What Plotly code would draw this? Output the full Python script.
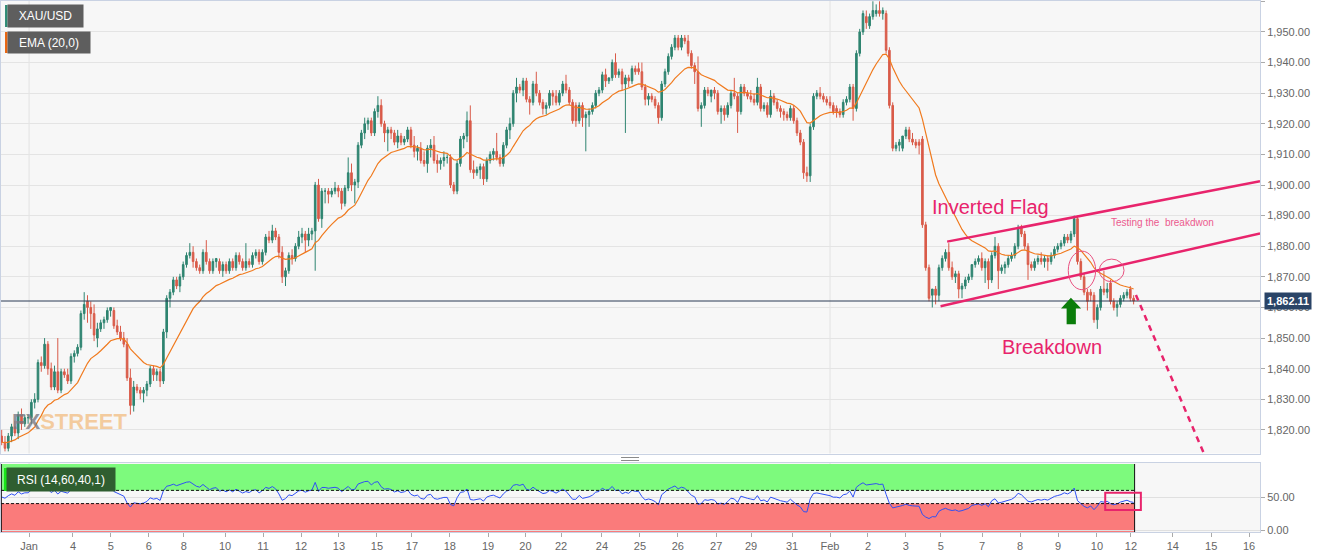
import numpy as np
import plotly.graph_objects as go

# ---------------- data (2H candles, XAU/USD) ----------------
open_ = [
    1818,1816,1814,1818,1821,1819,1825,1822,1824,1824,
    1829,1830,1842,1841,1848,1840,1834,1839,1833,1839,
    1838,1836,1844,1845,1847,1858,1862,1860,1858,1850,
    1853,1855,1856,1859,1859,1854,1852,1850,1848,1837,
    1828,1834,1833,1832,1833,1835,1840,1838,1839,1836,
    1852,1863,1865,1869,1867,1870,1874,1877,1878,1875,
    1873,1872,1878,1875,1872,1875,1875,1872,1874,1872,
    1875,1873,1877,1875,1873,1875,1874,1877,1878,1875,
    1878,1883,1882,1885,1883,1878,1870,1872,1877,1876,
    1880,1883,1884,1882,1884,1885,1900,1889,1898,1898,
    1897,1898,1899,1898,1894,1899,1904,1900,1901,1913,
    1917,1920,1921,1917,1924,1926,1920,1917,1918,1917,
    1914,1916,1914,1915,1918,1913,1911,1912,1908,1907,
    1912,1913,1908,1907,1908,1909,1909,1900,1898,1907,
    1915,1916,1921,1905,1904,1905,1906,1902,1908,1910,
    1911,1909,1907,1913,1918,1920,1930,1932,1931,1934,
    1928,1927,1933,1930,1927,1925,1926,1930,1929,1927,
    1930,1933,1931,1927,1926,1921,1926,1922,1923,1924,
    1926,1930,1931,1936,1934,1935,1940,1936,1937,1933,
    1935,1934,1938,1938,1937,1932,1928,1929,1928,1926,
    1922,1933,1937,1942,1945,1948,1945,1948,1947,1943,
    1939,1937,1925,1926,1931,1929,1931,1930,1924,1925,
    1923,1926,1930,1929,1924,1932,1930,1929,1928,1927,
    1932,1925,1926,1923,1929,1927,1925,1924,1923,1922,
    1925,1921,1917,1914,1904,1903,1919,1929,1930,1929,
    1928,1927,1926,1925,1924,1923,1927,1928,1932,1925,
    1943,1950,1955,1952,1955,1956,1957,1956,1956,1944,
    1926,1912,1913,1912,1916,1918,1915,1914,1914,1915,
    1887,1873,1864,1866,1864,1873,1876,1878,1873,1870,
    1871,1866,1867,1869,1870,1874,1875,1876,1873,1875,
    1869,1877,1880,1872,1873,1874,1876,1877,1880,1886,
    1884,1880,1874,1873,1875,1876,1875,1876,1875,1877,
    1879,1880,1881,1883,1882,1884,1889,1875,1870,1865,
    1865,1864,1856,1860,1866,1865,1868,1862,1860,1861,
    1863,1864,1866,1863,
]
high = [
    1820,1818,1819,1822,1823,1826,1827,1825,1825,1830,
    1832,1843,1844,1850,1849,1842,1841,1850,1840,1840,
    1840,1845,1846,1848,1859,1865,1864,1862,1861,1855,
    1856,1857,1860,1860,1860,1856,1854,1852,1850,1840,
    1836,1835,1834,1834,1836,1841,1841,1840,1840,1853,
    1864,1866,1870,1870,1871,1875,1878,1881,1880,1876,
    1874,1879,1882,1876,1876,1876,1876,1875,1875,1876,
    1876,1878,1878,1876,1881,1876,1878,1879,1879,1879,
    1884,1885,1887,1886,1884,1880,1873,1878,1879,1881,
    1885,1886,1885,1886,1886,1901,1902,1899,1899,1899,
    1899,1901,1900,1899,1900,1909,1907,1902,1914,1918,
    1922,1922,1922,1925,1929,1928,1921,1919,1919,1918,
    1918,1917,1916,1919,1919,1916,1913,1914,1911,1913,
    1915,1916,1910,1909,1911,1910,1910,1901,1908,1916,
    1917,1924,1926,1908,1906,1907,1907,1909,1911,1912,
    1917,1910,1914,1919,1922,1931,1935,1933,1935,1935,
    1929,1934,1937,1931,1928,1927,1931,1931,1931,1931,
    1934,1936,1932,1928,1927,1927,1927,1924,1925,1927,
    1931,1932,1937,1938,1935,1941,1943,1938,1938,1936,
    1936,1939,1939,1940,1940,1933,1930,1930,1929,1927,
    1934,1938,1943,1946,1949,1949,1949,1949,1949,1944,
    1940,1942,1927,1932,1932,1931,1932,1931,1926,1926,
    1927,1931,1935,1930,1933,1933,1931,1931,1930,1935,
    1933,1927,1927,1931,1930,1928,1926,1925,1924,1926,
    1926,1922,1918,1915,1906,1920,1930,1931,1932,1930,
    1929,1929,1927,1926,1925,1928,1929,1933,1933,1944,
    1951,1957,1957,1956,1960,1959,1960,1958,1957,1945,
    1927,1914,1915,1916,1919,1919,1917,1915,1915,1916,
    1888,1874,1866,1867,1874,1877,1879,1881,1875,1872,
    1872,1868,1870,1871,1874,1876,1877,1878,1876,1876,
    1878,1883,1881,1874,1875,1877,1878,1881,1887,1887,
    1885,1881,1875,1876,1877,1878,1877,1877,1878,1880,
    1881,1882,1884,1884,1885,1890,1890,1876,1871,1866,
    1866,1865,1861,1867,1872,1868,1869,1863,1862,1864,
    1865,1866,1867,1864,
]
low = [
    1815,1813,1813,1816,1818,1817,1820,1821,1822,1822,
    1827,1829,1839,1840,1838,1833,1833,1832,1832,1837,
    1835,1835,1842,1844,1846,1856,1855,1853,1849,1847,
    1852,1853,1855,1857,1853,1851,1849,1847,1836,1825,
    1826,1832,1830,1829,1831,1834,1836,1836,1834,1835,
    1850,1860,1864,1866,1865,1869,1873,1876,1873,1872,
    1871,1871,1874,1871,1871,1873,1871,1870,1871,1871,
    1872,1872,1874,1872,1872,1873,1873,1876,1874,1874,
    1877,1881,1881,1882,1876,1868,1867,1871,1874,1875,
    1879,1881,1878,1880,1882,1872,1888,1886,1894,1894,
    1896,1897,1896,1892,1893,1898,1898,1894,1899,1912,
    1915,1918,1916,1916,1922,1919,1914,1911,1915,1913,
    1912,1913,1913,1914,1912,1909,1908,1907,1906,1904,
    1909,1907,1904,1905,1906,1907,1899,1897,1897,1906,
    1912,1914,1904,1902,1903,1902,1900,1901,1907,1908,
    1908,1906,1906,1912,1915,1919,1927,1930,1929,1927,
    1923,1926,1929,1926,1923,1923,1925,1926,1926,1926,
    1929,1930,1926,1920,1919,1920,1919,1911,1919,1923,
    1925,1929,1930,1932,1933,1934,1935,1935,1931,1917,
    1932,1933,1936,1936,1931,1926,1926,1927,1925,1920,
    1921,1932,1936,1941,1944,1944,1944,1946,1942,1938,
    1933,1924,1919,1925,1929,1927,1928,1923,1920,1921,
    1922,1925,1928,1917,1923,1929,1928,1927,1926,1926,
    1924,1924,1922,1922,1926,1924,1922,1921,1921,1921,
    1920,1916,1913,1902,1901,1901,1918,1928,1928,1927,
    1926,1925,1923,1922,1922,1922,1926,1927,1921,1924,
    1942,1949,1951,1951,1954,1955,1955,1954,1943,1925,
    1911,1911,1911,1911,1915,1914,1913,1912,1910,1886,
    1872,1862,1860,1861,1862,1872,1875,1872,1869,1868,
    1863,1863,1866,1868,1869,1873,1874,1872,1868,1866,
    1868,1876,1866,1871,1871,1873,1875,1876,1879,1883,
    1879,1869,1872,1872,1874,1874,1873,1872,1874,1876,
    1878,1879,1880,1881,1881,1883,1874,1869,1864,1859,
    1862,1855,1853,1859,1864,1863,1861,1859,1857,1860,
    1862,1863,1862,1861,
]
close = [
    1816,1814,1818,1821,1819,1825,1822,1824,1824,1829,
    1830,1842,1841,1848,1840,1834,1839,1833,1839,1838,
    1836,1844,1845,1847,1858,1861,1860,1858,1851,1853,
    1855,1856,1859,1860,1854,1852,1850,1848,1837,1828,
    1834,1833,1832,1833,1835,1840,1838,1839,1836,1852,
    1863,1865,1869,1867,1870,1874,1877,1878,1875,1873,
    1872,1878,1875,1872,1875,1876,1872,1874,1872,1875,
    1873,1877,1875,1873,1875,1874,1877,1878,1875,1878,
    1883,1882,1885,1883,1878,1870,1872,1877,1876,1880,
    1883,1884,1882,1884,1885,1900,1889,1898,1898,1897,
    1898,1899,1898,1894,1899,1904,1900,1901,1913,1917,
    1920,1921,1917,1924,1926,1920,1917,1918,1917,1914,
    1916,1914,1915,1918,1913,1911,1912,1908,1907,1912,
    1913,1908,1907,1908,1909,1909,1900,1898,1907,1915,
    1916,1921,1905,1904,1905,1906,1902,1908,1910,1911,
    1909,1907,1913,1918,1920,1930,1932,1931,1934,1928,
    1927,1933,1930,1927,1925,1926,1930,1929,1927,1930,
    1933,1931,1927,1921,1921,1926,1922,1923,1924,1926,
    1930,1931,1936,1934,1935,1940,1936,1937,1933,1935,
    1934,1938,1937,1937,1932,1928,1929,1928,1926,1922,
    1933,1937,1942,1945,1948,1945,1948,1947,1943,1939,
    1937,1925,1926,1931,1930,1931,1930,1924,1925,1923,
    1926,1930,1929,1924,1932,1930,1929,1928,1927,1932,
    1925,1926,1923,1929,1927,1925,1924,1923,1922,1925,
    1921,1917,1914,1904,1903,1919,1929,1930,1929,1928,
    1927,1926,1924,1924,1923,1927,1928,1932,1925,1943,
    1950,1956,1953,1955,1957,1957,1956,1957,1944,1926,
    1912,1913,1914,1916,1918,1915,1914,1913,1913,1887,
    1873,1863,1866,1864,1873,1876,1878,1873,1870,1871,
    1866,1867,1869,1870,1874,1875,1876,1873,1875,1869,
    1877,1880,1872,1873,1874,1876,1877,1880,1886,1884,
    1880,1874,1873,1875,1876,1875,1876,1875,1877,1879,
    1880,1881,1883,1882,1884,1889,1875,1870,1865,1862,
    1864,1856,1860,1866,1865,1866,1862,1860,1861,1863,
    1864,1865,1863,1862.11,
]

# x-axis: candle position of each date label
tick_pos = [8.3, 21.6, 33.1, 44.6, 55.2, 67.7, 79.2, 90.7, 102.2, 113.7,
            124.3, 135.8, 147.4, 158.7, 169.5, 181.9, 193.4, 204.9, 216.5, 227.1,
            239.5, 251.0, 262.5, 274.0, 284.6, 297.1, 308.6, 320.1, 331.9, 342.2,
            354.9, 366.5, 378.0]
tick_text = ["Jan", "4", "5", "6", "8", "10", "11", "12", "13", "15",
             "17", "18", "19", "20", "22", "24", "25", "26", "27", "29",
             "31", "Feb", "2", "3", "5", "7", "8", "9", "10", "12",
             "14", "15", "16"]
month_pos = [8.3, 251.0]
last_price = 1862.11
rsi_hi, rsi_lo = 60, 40

# ---------------- indicators ----------------
n = len(close)
x = np.arange(n)
c = np.asarray(close, float)
ema = np.empty(n)
ema[0] = c[0]
a = 2.0 / 21.0
for i in range(1, n):
    ema[i] = a * c[i] + (1 - a) * ema[i - 1]

d = np.diff(c)
gain = np.maximum(d, 0)
loss = np.maximum(-d, 0)
rsi = np.empty(n)
ag = al = np.mean(np.abs(d[:14])) / 2.0   # neutral warm-up
rsi[0] = 50.0
for i in range(1, n):
    ag = (ag * 13 + gain[i - 1]) / 14
    al = (al * 13 + loss[i - 1]) / 14
    rsi[i] = 100 * ag / (ag + al) if (ag + al) > 0 else 50

# ---------------- styling ----------------
GREEN = "#2E8470"
RED = "#D95B49"
PINK = "#E8246C"
FONT = "Liberation Sans, Arial, sans-serif"
BORDER = "#C9D2E3"
XR = [-0.21, 381.3]
data_end = n - 1 + 0.3

fig = go.Figure()
fig.add_trace(go.Candlestick(
    x=x, open=open_, high=high, low=low, close=close,
    increasing=dict(line=dict(color=GREEN, width=1), fillcolor=GREEN),
    decreasing=dict(line=dict(color=RED, width=1), fillcolor=RED),
    whiskerwidth=0, showlegend=False, hoverinfo="skip", xaxis="x", yaxis="y"))
fig.add_trace(go.Scatter(x=x, y=ema, mode="lines", line=dict(color="#F07A1E", width=1.2),
                         showlegend=False, hoverinfo="skip", xaxis="x", yaxis="y"))
fig.add_trace(go.Scatter(x=x, y=rsi, mode="lines", line=dict(color="#2F50F5", width=1),
                         showlegend=False, hoverinfo="skip", xaxis="x2", yaxis="y2"))

shapes = []
for mp in month_pos:
    for yr in ("y domain", "y2 domain"):
        shapes.append(dict(type="line", xref="x", yref=yr, x0=mp, x1=mp, y0=0, y1=1,
                           line=dict(color="#E2E2E2", width=1), layer="below"))
shapes += [
    dict(type="rect", xref="x2", yref="y2", x0=XR[0], x1=data_end, y0=rsi_hi, y1=100,
         fillcolor="#7DFA7D", line=dict(width=0), layer="below"),
    dict(type="rect", xref="x2", yref="y2", x0=XR[0], x1=data_end, y0=-3.03, y1=rsi_lo,
         fillcolor="#FA7B7B", line=dict(width=0), layer="below"),
    dict(type="line", xref="x2", yref="y2", x0=XR[0], x1=data_end, y0=rsi_hi, y1=rsi_hi,
         line=dict(color="#111", width=1, dash="3px,2px")),
    dict(type="line", xref="x2", yref="y2", x0=XR[0], x1=data_end, y0=rsi_lo, y1=rsi_lo,
         line=dict(color="#111", width=1, dash="3px,2px")),
    dict(type="line", xref="x2", yref="y2", x0=data_end, x1=data_end, y0=-3.03, y1=100,
         line=dict(color="#111", width=1)),
    dict(type="line", xref="x2", yref="y2", x0=XR[0] + 0.1, x1=XR[0] + 0.1, y0=-3.03, y1=100,
         line=dict(color="#111", width=1)),
]
shapes.append(dict(type="line", xref="x domain", yref="y", x0=0, x1=1, y0=last_price, y1=last_price,
                   line=dict(color="#2B3A55", width=1)))
shapes += [
    dict(type="line", xref="x", yref="y", x0=286.5, y0=1881.5, x1=XR[1], y1=1901.2,
         line=dict(color=PINK, width=2.5)),
    dict(type="line", xref="x", yref="y", x0=284.5, y0=1860.4, x1=XR[1], y1=1884.2,
         line=dict(color=PINK, width=2.5)),
    dict(type="circle", xref="x", yref="y", x0=323.2, x1=331.5, y0=1865.8, y1=1878.4,
         line=dict(color="#E8507F", width=1)),
    dict(type="circle", xref="x", yref="y", x0=332.6, x1=340.1, y0=1868.4, y1=1875.8,
         line=dict(color="#E8507F", width=1)),
    dict(type="line", xref="x", yref="y", x0=343.7, y0=1864.1, x1=364.3, y1=1812.3,
         line=dict(color=PINK, width=2.5, dash="6px,5px")),
    dict(type="path", xref="x", yref="y",
         path="M 321.0,1859.7 L 324.0,1863.2 L 327.1,1859.7 L 325.5,1859.7 L 325.5,1854.5 "
              "L 322.7,1854.5 L 322.7,1859.7 Z",
         fillcolor="#0B7D0B", line=dict(width=0)),
    dict(type="rect", xref="x2", yref="y2", x0=334.4, x1=345.2, y0=30.3, y1=56.5,
         line=dict(color=PINK, width=2), fillcolor="rgba(0,0,0,0)"),
]
shapes += [
    dict(type="rect", xref="paper", yref="paper", x0=0.0032, x1=0.0052, y0=1 - 27 / 558, y1=1 - 5 / 558,
         fillcolor="#2E8B74", line=dict(width=0)),
    dict(type="rect", xref="paper", yref="paper", x0=0.0032, x1=0.0052, y0=1 - 53 / 558, y1=1 - 32 / 558,
         fillcolor="#E8650F", line=dict(width=0)),
    dict(type="rect", xref="paper", yref="paper", x0=0.0024, x1=0.0052, y0=1 - 491 / 558, y1=1 - 468 / 558,
         fillcolor="#19E619", line=dict(width=0)),
    dict(type="line", xref="paper", yref="paper", x0=0.4925, x1=0.5068, y0=1 - 457.5 / 558, y1=1 - 457.5 / 558,
         line=dict(color="#8A8A8A", width=1)),
    dict(type="line", xref="paper", yref="paper", x0=0.4925, x1=0.5068, y0=1 - 460.5 / 558, y1=1 - 460.5 / 558,
         line=dict(color="#8A8A8A", width=1)),
]

annotations = [
    dict(xref="paper", yref="paper", x=0.0354, y=1 - 16 / 558, xanchor="center", yanchor="middle",
         text="XAU/USD", showarrow=False, bgcolor="#5E5E5E", width=75, height=22, borderpad=0,
         font=dict(family=FONT, size=12, color="white")),
    dict(xref="paper", yref="paper", x=0.0381, y=1 - 42.5 / 558, xanchor="center", yanchor="middle",
         text="EMA (20,0)", showarrow=False, bgcolor="#5E5E5E", width=82, height=21, borderpad=0,
         font=dict(family=FONT, size=12, color="white")),
    dict(xref="paper", yref="paper", x=0.0477, y=1 - 479.5 / 558, xanchor="center", yanchor="middle",
         text="RSI (14,60,40,1)", showarrow=False, bgcolor="#2F5E30", width=108, height=23, borderpad=0,
         font=dict(family=FONT, size=12, color="white")),
    dict(xref="paper", yref="y", x=1, xanchor="left", xshift=4, y=last_price, text="<b>1,862.11</b>",
         showarrow=False, bgcolor="#2A4467", borderpad=2, font=dict(family=FONT, size=11, color="white")),
    dict(xref="x", yref="y", x=299.5, y=1892.8, text="Inverted Flag", showarrow=False,
         font=dict(family=FONT, size=20, color=PINK)),
    dict(xref="x", yref="y", x=318.3, y=1847.1, text="Breakdown", showarrow=False,
         font=dict(family=FONT, size=20, color=PINK)),
    dict(xref="x", yref="y", x=351.9, y=1887.9, text="Testing the\u00a0 breakdwon", showarrow=False,
         font=dict(family=FONT, size=10, color="#EC5A8E")),
    dict(xref="paper", yref="paper", x=0.0548, y=1 - 421 / 558, xanchor="center", yanchor="middle",
         showarrow=False,
         text="<b>FX<span style='color:rgba(240,170,90,0.7)'>STREET</span></b>",
         font=dict(family=FONT, size=22, color="rgba(120,120,130,0.8)")),
]

fig.update_layout(
    width=1331, height=558, autosize=False,
    margin=dict(l=1, r=71, t=0, b=0, pad=0, autoexpand=False),
    paper_bgcolor="white", plot_bgcolor="#F7F7F7",
    font=dict(family=FONT, size=11, color="#666"),
    showlegend=False,
    xaxis=dict(domain=[0, 1], range=XR, anchor="y", showticklabels=False, showgrid=False,
               zeroline=False, showline=True, mirror=True, linecolor=BORDER, ticks="",
               automargin=False, rangeslider=dict(visible=False)),
    yaxis=dict(domain=[1 - 453.5 / 558, 1 - 1 / 558], range=[1812.3, 1960.1], side="right",
               anchor="x", dtick=10, tick0=1800, tickformat=",.2f", showgrid=True, gridcolor="#E4E4E4",
               zeroline=False, showline=True, mirror=True, linecolor=BORDER, ticks="outside",
               ticklen=4, tickcolor="#AAA", tickfont=dict(size=11, color="#666"), automargin=False),
    xaxis2=dict(domain=[0, 1], range=XR, anchor="y2", matches="x", tickmode="array",
                tickvals=tick_pos, ticktext=tick_text, showgrid=False, zeroline=False,
                showline=True, mirror=True, linecolor=BORDER, ticks="outside", ticklen=4,
                tickcolor="#AAA", tickfont=dict(size=11, color="#666"), automargin=False,
                rangeslider=dict(visible=False)),
    yaxis2=dict(domain=[1 - 532 / 558, 1 - 463 / 558], range=[-3.03, 101.5], side="right",
                anchor="x2", tickmode="array", tickvals=[0, 50], tickformat=".2f", showgrid=True,
                gridcolor="#E0E0E0", zeroline=False, showline=True, mirror=True, linecolor=BORDER,
                ticks="outside", ticklen=4, tickcolor="#AAA", tickfont=dict(size=11, color="#666"),
                automargin=False),
    shapes=shapes,
    annotations=annotations,
)

fig.write_html("out.html",
               config={"displayModeBar": False, "responsive": False},
               post_script="document.body.style.margin='0px';document.body.style.overflow='hidden';")
